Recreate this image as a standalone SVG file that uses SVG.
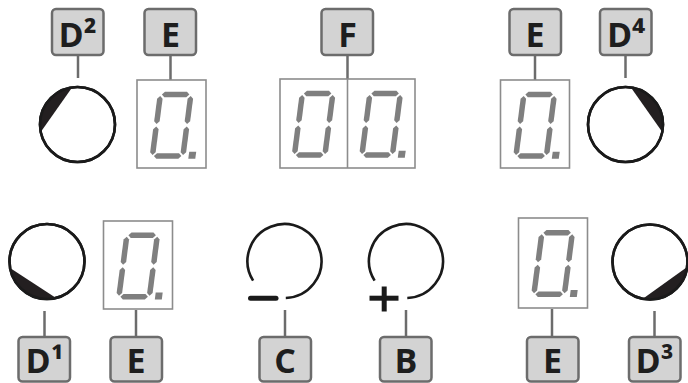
<svg xmlns="http://www.w3.org/2000/svg" xmlns:xlink="http://www.w3.org/1999/xlink" width="688" height="383" viewBox="0 0 688 383">
<style>
.lb rect{fill:#d3d3d3;stroke:#6c6c6c;stroke-width:2.5}
.lb text{font-family:"Open Sans","Noto Sans","DejaVu Sans",sans-serif;font-weight:700;font-size:34px;fill:#1e1e1e;text-anchor:middle}
.conn line{stroke:#6c6c6c;stroke-width:2.5}
.box{fill:#fff;stroke:#8c8c8c;stroke-width:1.6}
.seg{fill:#7f7f7f}
.ring{fill:#fff;stroke:#1a1a1a;stroke-width:2.6}
.rim{fill:none;stroke:#1a1a1a;stroke-width:2.6}
.wedge{fill:#231f20}
.arc{fill:none;stroke:#1a1a1a;stroke-width:2.6}
.sign{stroke:#1a1a1a;stroke-width:5}
</style>
<defs>
<g id="dig" class="seg" transform="skewX(-7.4)">
<polygon points="4.25,2.75 7,0 29,0 31.75,2.75 29,5.5 7,5.5"/>
<polygon points="2.75,4.25 5.5,7 5.5,29.5 2.75,32.25 0,29.5 0,7"/>
<polygon points="33.25,4.25 36,7 36,29.5 33.25,32.25 30.5,29.5 30.5,7"/>
<polygon points="2.75,34.75 5.5,37.5 5.5,60.5 2.75,63.25 0,60.5 0,37.5"/>
<polygon points="33.25,34.75 36,37.5 36,60.5 33.25,63.25 30.5,60.5 30.5,37.5"/>
<polygon points="4.25,64.25 7,61.5 29,61.5 31.75,64.25 29,67 7,67"/>
</g>
<polygon id="dp" class="seg" transform="skewX(-7.4)" points="39,60 46,60 46,67 39,67"/>
</defs>

<g id="connectors" class="conn">
<line x1="78" y1="55" x2="78" y2="78"/>
<line x1="170.5" y1="55" x2="170.5" y2="80"/>
<line x1="347.5" y1="55" x2="347.5" y2="79"/>
<line x1="535" y1="55" x2="535" y2="80"/>
<line x1="625.5" y1="55" x2="625.5" y2="78"/>
<line x1="44.5" y1="311" x2="44.5" y2="337"/>
<line x1="136" y1="310" x2="136" y2="337"/>
<line x1="285" y1="310" x2="285" y2="337"/>
<line x1="406" y1="310" x2="406" y2="337"/>
<line x1="552" y1="309" x2="552" y2="337"/>
<line x1="654.5" y1="311" x2="654.5" y2="337"/>
</g>

<g id="knob-D2">
<circle class="ring" cx="77.5" cy="124.5" r="37.5"/>
<path class="wedge" d="M40.75 131.98A37.5 37.5 0 0 1 72.09 87.4Z"/>
<circle class="rim" cx="77.5" cy="124.5" r="37.5"/>
</g>
<g id="display-E-top-left">
<rect class="box" x="137" y="80" width="69" height="88"/>
<use xlink:href="#dig" x="158" y="91.7"/>
<use xlink:href="#dp" x="158" y="91.7"/>
</g>
<g id="display-F">
<rect class="box" x="280" y="79" width="135" height="89"/>
<line x1="347.5" y1="79" x2="347.5" y2="168" stroke="#8c8c8c" stroke-width="1.6"/>
<use xlink:href="#dig" x="300" y="90.7"/>
<use xlink:href="#dig" x="367.5" y="90.7"/>
<use xlink:href="#dp" x="367.5" y="90.7"/>
</g>
<g id="display-E-top-right">
<rect class="box" x="500.5" y="80" width="69" height="88"/>
<use xlink:href="#dig" x="521.5" y="91.7"/>
<use xlink:href="#dp" x="521.5" y="91.7"/>
</g>
<g id="knob-D4">
<circle class="ring" cx="625.5" cy="124.5" r="37.5"/>
<path class="wedge" d="M630.91 87.4A37.5 37.5 0 0 1 662.25 131.98Z"/>
<circle class="rim" cx="625.5" cy="124.5" r="37.5"/>
</g>

<g id="knob-D1">
<circle class="ring" cx="47" cy="261.5" r="37.5"/>
<path class="wedge" d="M56.07 297.89A37.5 37.5 0 0 1 10.07 268.01Z"/>
<circle class="rim" cx="47" cy="261.5" r="37.5"/>
</g>
<g id="display-E-bottom-left">
<rect class="box" x="103.5" y="221" width="69" height="88"/>
<use xlink:href="#dig" x="124.5" y="232.5"/>
<use xlink:href="#dp" x="124.5" y="232.5"/>
</g>
<g id="button-C">
<path class="arc" d="M253.1 280.6A37 37 0 1 1 285.8 298"/>
<line class="sign" x1="250.5" y1="298.2" x2="276" y2="298.2" stroke-linecap="round"/>
</g>
<g id="button-B">
<path class="arc" d="M374.6 280.6A37 37 0 1 1 407.3 298"/>
<line class="sign" x1="369.5" y1="298.2" x2="398.5" y2="298.2"/>
<line class="sign" x1="384.2" y1="286.5" x2="384.2" y2="311.5"/>
</g>
<g id="display-E-bottom-right">
<rect class="box" x="518.5" y="218" width="69" height="90"/>
<use xlink:href="#dig" x="539.5" y="230"/>
<use xlink:href="#dp" x="539.5" y="230"/>
</g>
<g id="knob-D3">
<circle class="ring" cx="650" cy="262" r="37.5"/>
<path class="wedge" d="M687.17 266.96A37.5 37.5 0 0 1 642.84 298.81Z"/>
<circle class="rim" cx="650" cy="262" r="37.5"/>
</g>

<g id="label-D2" class="lb"><rect x="52" y="9" width="51.5" height="46" rx="4"/><text x="77.5" y="46.5">D²</text></g>
<g id="label-E-top-left" class="lb"><rect x="144.5" y="9" width="51.5" height="46" rx="4"/><text x="170.5" y="46.5">E</text></g>
<g id="label-F" class="lb"><rect x="321.5" y="9" width="51.5" height="46" rx="4"/><text x="347.5" y="46.5">F</text></g>
<g id="label-E-top-right" class="lb"><rect x="509.5" y="9" width="51.5" height="46" rx="4"/><text x="535" y="46.5">E</text></g>
<g id="label-D4" class="lb"><rect x="600" y="9" width="51.5" height="46" rx="4"/><text x="626" y="46.5">D⁴</text></g>

<g id="label-D1" class="lb"><rect x="18.5" y="337" width="51.5" height="44.5" rx="4"/><text x="44.5" y="373">D¹</text></g>
<g id="label-E-bottom-left" class="lb"><rect x="110.5" y="337" width="51.5" height="44.5" rx="4"/><text x="136" y="373">E</text></g>
<g id="label-C" class="lb"><rect x="259.5" y="337" width="51.5" height="44.5" rx="4"/><text x="285" y="373">C</text></g>
<g id="label-B" class="lb"><rect x="380" y="337" width="51.5" height="44.5" rx="4"/><text x="406" y="373">B</text></g>
<g id="label-E-bottom-right" class="lb"><rect x="527" y="337" width="51.5" height="44.5" rx="4"/><text x="552.5" y="373">E</text></g>
<g id="label-D3" class="lb"><rect x="629" y="337" width="51.5" height="44.5" rx="4"/><text x="654.5" y="373">D³</text></g>
</svg>
